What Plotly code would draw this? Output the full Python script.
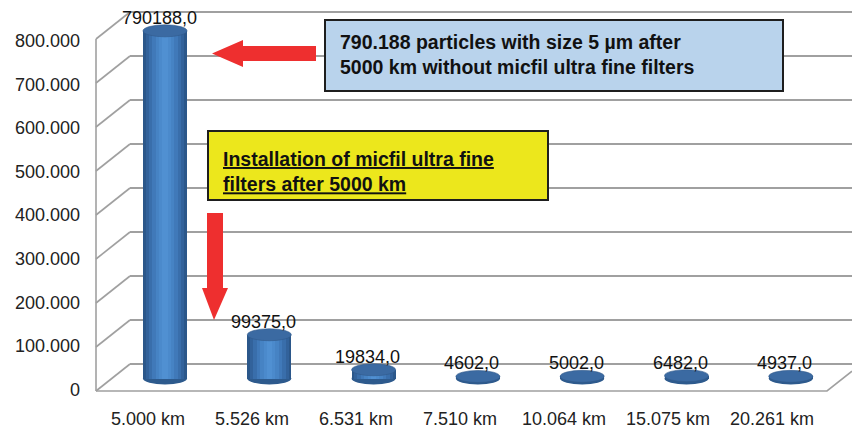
import plotly.graph_objects as go

# ---------------- data ----------------
categories = ["5.000 km", "5.526 km", "6.531 km", "7.510 km", "10.064 km", "15.075 km", "20.261 km"]
particles = [790188, 99375, 19834, 4602, 5002, 6482, 4937]
y_ticks = [0, 100000, 200000, 300000, 400000, 500000, 600000, 700000, 800000]
y_tick_text = ["0", "100.000", "200.000", "300.000", "400.000", "500.000", "600.000", "700.000", "800.000"]
box_blue_text = "790.188 particles with size 5 µm after<br>5000 km without micfil ultra fine filters"
box_yellow_text = "Installation of micfil ultra fine<br>filters after 5000 km"

# ---------------- geometry (pixels) ----------------
W, H = 852, 428
PLOT_L, PLOT_R = 130, 852
PLOT_T, PLOT_B = 2, 400
S = 0.00044            # px per particle
Z_BACK = 364           # back wall zero line
Z_FRONT = 391          # front edge zero line
Z_MID = 378.5          # bars sit mid-depth
Z_LABEL = 389.5        # y tick labels
S_LABEL = 0.000436
FRONT_X = 96           # left wall front edge
BAR_C0, BAR_STEP = 165, 104.3
LAB_C0, LAB_STEP = 148, 104.0
BAR_W_PX = 44
ELL_H_PX = 6

FONT = "Liberation Sans, Arial, sans-serif"


def px_x(p):
    return p / W


def px_y(p):
    return 1 - p / H


def yrange(z, s):
    return [(z - PLOT_B) / s, (z - PLOT_T) / s]


def xrange(c0, step):
    return [(PLOT_L - c0) / step, (PLOT_R - c0) / step]


fig = go.Figure()

# cylinder body: layered bars to imitate the shading
bar_w = BAR_W_PX / BAR_STEP
layers = [
    (1.00, "#2b578a"),
    (0.88, "#32629b"),
    (0.74, "#396eab"),
    (0.58, "#4079b9"),
    (0.42, "#4683c4"),
    (0.26, "#4b8acc"),
    (0.12, "#5090d2"),
]
for frac, col in layers:
    fig.add_trace(go.Bar(
        x=categories, y=particles, width=bar_w * frac,
        marker=dict(color=col, line=dict(width=0)),
        xaxis="x", yaxis="y", hoverinfo="skip", showlegend=False,
    ))

# invisible helper traces so the overlay axes exist
fig.add_trace(go.Scatter(x=categories, y=[0] * len(categories), xaxis="x2", yaxis="y",
                         mode="markers", marker=dict(opacity=0), hoverinfo="skip", showlegend=False))
fig.add_trace(go.Scatter(x=[categories[0]], y=[0], xaxis="x", yaxis="y2",
                         mode="markers", marker=dict(opacity=0), hoverinfo="skip", showlegend=False))
fig.add_trace(go.Scatter(x=[categories[0]], y=[0], xaxis="x", yaxis="y3",
                         mode="markers", marker=dict(opacity=0), hoverinfo="skip", showlegend=False))

shapes = []
ell_h = ELL_H_PX / S
half_w = bar_w / 2
for i, v in enumerate(particles):
    # bottom ellipse (visible half below body)
    shapes.append(dict(type="circle", xref="x", yref="y", layer="between",
                       x0=i - half_w, x1=i + half_w, y0=-ell_h, y1=ell_h,
                       fillcolor="#2d5a8d", line=dict(width=0)))
    # top ellipse
    shapes.append(dict(type="circle", xref="x", yref="y", layer="above",
                       x0=i - half_w, x1=i + half_w, y0=v - ell_h, y1=v + ell_h,
                       fillcolor="#3b6aa2", line=dict(width=0.6, color="#30598a")))

grid_col = "#a0a0a0"
grid_w = 1.6
# left wall: vertical front edge + diagonals
shapes.append(dict(type="line", xref="paper", yref="paper",
                   x0=px_x(FRONT_X), x1=px_x(FRONT_X),
                   y0=px_y(Z_FRONT), y1=px_y(Z_FRONT - max(y_ticks) * S),
                   line=dict(color=grid_col, width=grid_w)))
for t in y_ticks:
    shapes.append(dict(type="line", xref="paper", yref="paper",
                       x0=px_x(FRONT_X), x1=px_x(PLOT_L),
                       y0=px_y(Z_FRONT - t * S), y1=px_y(Z_BACK - t * S),
                       line=dict(color=grid_col, width=grid_w)))
# floor front edge
floor_right = 827
slope = (Z_FRONT - Z_BACK) / (PLOT_L - FRONT_X)
shapes.append(dict(type="path", xref="paper", yref="paper",
                   path=f"M {px_x(FRONT_X)} {px_y(Z_FRONT)} L {px_x(floor_right)} {px_y(Z_FRONT)} "
                        f"L {px_x(W)} {px_y(Z_FRONT - (W - floor_right) * slope)}",
                   line=dict(color=grid_col, width=grid_w)))

# red arrows
red = "#ee2f2f"
left_arrow = [(212, 53.5), (243, 40), (243, 46), (316, 46), (316, 61), (243, 61), (243, 67)]
down_arrow = [(207, 213), (223, 213), (223, 288), (228, 288), (214, 320), (202, 288), (207, 288)]
for poly in (left_arrow, down_arrow):
    path = "M " + " L ".join(f"{px_x(a)} {px_y(b)}" for a, b in poly) + " Z"
    shapes.append(dict(type="path", xref="paper", yref="paper", path=path,
                       fillcolor=red, line=dict(width=0), layer="above"))

# boxes
shapes.append(dict(type="rect", xref="paper", yref="paper", layer="above",
                   x0=px_x(325), x1=px_x(783), y0=px_y(91), y1=px_y(20),
                   fillcolor="#b9d3ec", line=dict(color="#1e1e1e", width=2)))
shapes.append(dict(type="rect", xref="paper", yref="paper", layer="above",
                   x0=px_x(208), x1=px_x(548), y0=px_y(200), y1=px_y(131),
                   fillcolor="#ece71c", line=dict(color="#1e1e1e", width=2)))

annotations = []
for i, v in enumerate(particles):
    annotations.append(dict(x=i, y=v, xref="x", yref="y", text=f"{v},0",
                            showarrow=False, yanchor="middle", xanchor="center",
                            yshift=13, xshift=-6,
                            font=dict(family=FONT, size=18, color="#111111")))
annotations.append(dict(x=px_x(338), y=px_y(55), xref="paper", yref="paper",
                        text="<b>" + box_blue_text + "</b>", showarrow=False,
                        xanchor="left", yanchor="middle", align="left",
                        font=dict(family=FONT, size=19.5, color="#111111")))
annotations.append(dict(x=px_x(221), y=px_y(171), xref="paper", yref="paper",
                        text="<b>" + box_yellow_text + "</b>", showarrow=False,
                        xanchor="left", yanchor="middle", align="left",
                        font=dict(family=FONT, size=19.5, color="#111111", lineposition="under")))

dom_x = [px_x(PLOT_L), 1]
dom_y = [px_y(PLOT_B), px_y(PLOT_T)]

fig.update_layout(
    width=W, height=H,
    margin=dict(l=0, r=0, t=0, b=0),
    paper_bgcolor="white", plot_bgcolor="rgba(0,0,0,0)",
    barmode="overlay", bargap=0,
    showlegend=False,
    font=dict(family=FONT, size=18, color="#222222"),
    xaxis=dict(domain=dom_x, type="category", range=xrange(BAR_C0, BAR_STEP),
               showticklabels=False, showgrid=False, zeroline=False, showline=False,
               ticks="", automargin=False, fixedrange=True),
    xaxis2=dict(domain=dom_x, type="category", overlaying="x", anchor="y", side="bottom",
                range=xrange(LAB_C0, LAB_STEP), showgrid=False, zeroline=False, showline=False,
                ticks="", ticklabelstandoff=6, automargin=False,
                tickfont=dict(family=FONT, size=18, color="#222222")),
    yaxis=dict(domain=dom_y, range=yrange(Z_MID, S), showgrid=False, zeroline=False,
               showline=False, showticklabels=False, ticks="", automargin=False),
    yaxis2=dict(domain=dom_y, overlaying="y", anchor="free", position=px_x(FRONT_X), side="left",
                range=yrange(Z_LABEL, S_LABEL), tickmode="array", tickvals=y_ticks,
                ticktext=y_tick_text, showgrid=False, zeroline=False, showline=False,
                ticks="", ticklabelstandoff=16, automargin=False,
                tickfont=dict(family=FONT, size=18, color="#222222")),
    yaxis3=dict(domain=dom_y, overlaying="y", anchor="x", side="left",
                range=yrange(Z_BACK, S), tickmode="array", tickvals=y_ticks,
                showticklabels=False, showgrid=True, gridcolor=grid_col, gridwidth=grid_w,
                zeroline=False, showline=False, ticks="", automargin=False),
    shapes=shapes,
    annotations=annotations,
)

fig.write_html("out.html", config={"displayModeBar": False},
               post_script="document.body.style.margin='0';document.body.style.overflow='hidden';")
